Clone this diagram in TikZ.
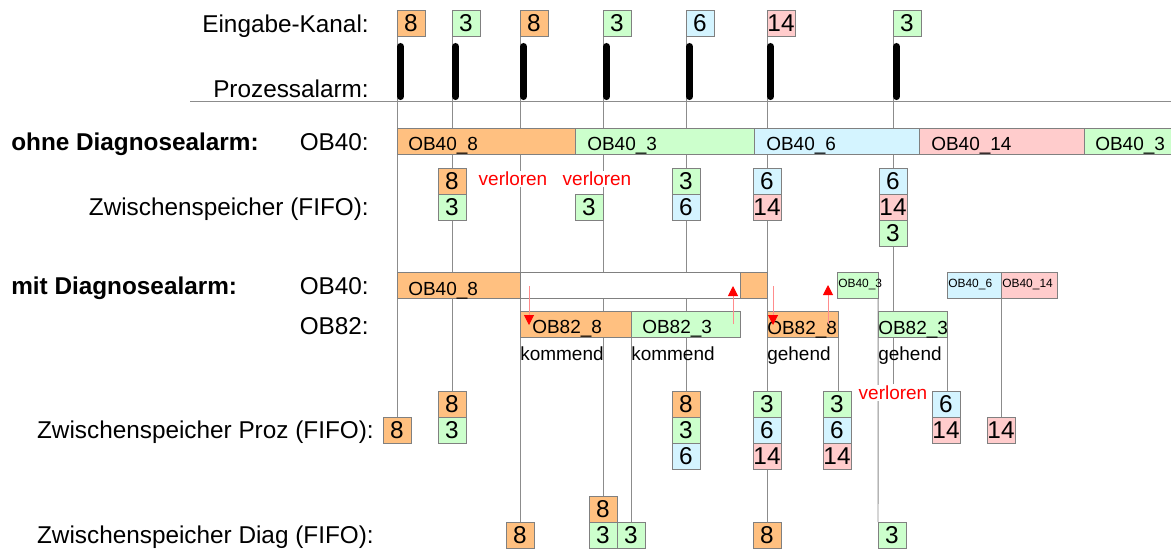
\documentclass[tikz,border=0pt]{standalone}
\usepackage{fontspec}
\setmainfont{Liberation Sans}
\usetikzlibrary{positioning,arrows.meta,backgrounds}

\definecolor{c8}{HTML}{FFC080}
\definecolor{c3}{HTML}{CCFFCC}
\definecolor{c6}{HTML}{D4F4FF}
\definecolor{c14}{HTML}{FFCCCC}
\definecolor{rim}{HTML}{808080}
\definecolor{guidegray}{HTML}{8C8C8C}

\newcommand{\bigtxt}{\fontsize{17.3}{20}\selectfont}
\newcommand{\midtxt}{\fontsize{13.5}{16}\selectfont}
\newcommand{\smalltxt}{\fontsize{8.5}{10}\selectfont}

\tikzset{
  rowlabel/.style={font=\bigtxt, inner sep=0pt, anchor=base east},
  caption/.style={font=\bfseries\bigtxt, inner sep=0pt, anchor=base west},
  num/.style={draw=rim, fill=#1, line width=0.7pt, minimum width=0.7cm, minimum height=0.65cm, inner sep=0pt, outer sep=0pt, font=\bigtxt},
  seg/.style={draw=rim, fill=#1, line width=0.7pt, minimum height=0.65cm, inner sep=0pt, outer sep=0pt, anchor=west},
  segtext/.style={font=\midtxt, inner sep=0pt, anchor=base west},
  smalltext/.style={font=\smalltxt, inner sep=0pt, anchor=base west},
  lost/.style={font=\midtxt, text=red, fill=white, inner sep=1pt},
  note/.style={font=\midtxt, inner sep=0pt, anchor=base west},
  guide/.style={draw=guidegray, line width=0.7pt},
  pulse/.style={line width=5pt, line cap=round},
  hint/.style={draw=red!45, line width=0.7pt, -{Triangle[red, length=0.25cm, width=0.25cm]}},
}

\begin{document}
\begin{tikzpicture}[x=0.025cm, y=-0.025cm]
  \useasboundingbox (0,0) rectangle (1171,549);
  \clip (0,0) rectangle (1171,549);

  % Row labels
  \node[rowlabel] (lkanal) at (369,32) {Eingabe-Kanal:};
  \node[rowlabel] (lalarm) at (369,97) {Prozessalarm:};
  \node[caption] (cohne) at (11,150) {ohne Diagnosealarm:};
  \node[rowlabel] (lob40a) at (369,150) {OB40:};
  \node[rowlabel] (lfifo) at (369,215) {Zwischenspeicher (FIFO):};
  \node[caption] (cmit) at (11,294) {mit Diagnosealarm:};
  \node[rowlabel] (lob40b) at (369,294) {OB40:};
  \node[rowlabel] (lob82) at (369,334) {OB82:};
  \node[rowlabel] (lproz) at (374,438) {Zwischenspeicher Proz (FIFO):};
  \node[rowlabel] (ldiag) at (374,543) {Zwischenspeicher Diag (FIFO):};

  % Input channels
  \node[num=c8] (k1) at (411,23) {8};
  \node[num=c3] (k2) at (466,23) {3};
  \node[num=c8] (k3) at (534,23) {8};
  \node[num=c3] (k4) at (617,23) {3};
  \node[num=c6] (k5) at (700,23) {6};
  \node[num=c14] (k6) at (781,23) {14};
  \node[num=c3] (k7) at (907,23) {3};

  % Process alarms
  \foreach \k in {k1,k2,k3,k4,k5,k6,k7}
    \draw[pulse] ([shift={(3.5,10.5)}]\k.south west) -- ([shift={(3.5,60.5)}]\k.south west);
  \coordinate (axl) at (190,101);
  \coordinate (axr) at (1171,101);
  \draw[guide] (axl) -- (axr);

  % ohne Diagnosealarm: OB40
  \node[seg=c8, minimum width=4.45cm] (a1) at (397,141) {};
  \node[seg=c3, minimum width=4.475cm] (a2) at (575,141) {};
  \node[seg=c6, minimum width=4.125cm] (a3) at (754,141) {};
  \node[seg=c14, minimum width=4.125cm] (a4) at (919,141) {};
  \node[seg=c3, minimum width=4.125cm] (a5) at (1084,141) {};
  \node[segtext] (ta1) at (408,150) {OB40\_8};
  \node[segtext] (ta2) at (587,150) {OB40\_3};
  \node[segtext] (ta3) at (766,150) {OB40\_6};
  \node[segtext] (ta4) at (931,150) {OB40\_14};
  \node[segtext] (ta5) at (1095,150) {OB40\_3};

  % ohne Diagnosealarm: FIFO
  \node[num=c8] (f1a) at (452,181) {8};
  \node[num=c3, below=0pt of f1a] (f1b) {3};
  \node[lost] (v1) at (513,179) {verloren};
  \node[lost] (v2) at (597,179) {verloren};
  \node[num=c3] (f2) at (589,207) {3};
  \node[num=c3] (f3a) at (686,181) {3};
  \node[num=c6, below=0pt of f3a] (f3b) {6};
  \node[num=c6] (f4a) at (767,181) {6};
  \node[num=c14, below=0pt of f4a] (f4b) {14};
  \node[num=c6] (f5a) at (893,181) {6};
  \node[num=c14, below=0pt of f5a] (f5b) {14};
  \node[num=c3, below=0pt of f5b] (f5c) {3};

  % mit Diagnosealarm: OB40
  \node[seg=c8, minimum width=3.075cm] (b1) at (397,285) {};
  \node[seg=white, minimum width=5.5cm] (b2) at (520,285) {};
  \node[seg=c8, minimum width=0.675cm] (b3) at (740,285) {};
  \node[seg=c3, minimum width=1.025cm] (s1) at (837,285) {};
  \node[seg=c6, minimum width=1.35cm] (s2) at (947,285) {};
  \node[seg=c14, minimum width=1.4cm] (s3) at (1001,285) {};
  \node[segtext] (tb1) at (408,295) {OB40\_8};
  \node[smalltext] (ts1) at (838,287) {OB40\_3};
  \node[smalltext] (ts2) at (948,287) {OB40\_6};
  \node[smalltext] (ts3) at (1002,287) {OB40\_14};

  % mit Diagnosealarm: OB82
  \node[seg=c8, minimum width=2.775cm] (m1) at (520,324.5) {};
  \node[seg=c3, minimum width=2.725cm] (m2) at (631,324.5) {};
  \node[seg=c8, minimum width=1.775cm] (m3) at (767,324.5) {};
  \node[seg=c3, minimum width=1.725cm] (m4) at (878,324.5) {};
  \node[segtext] (tm1) at (532,333) {OB82\_8};
  \node[segtext] (tm2) at (642,333) {OB82\_3};
  \node[segtext] (tm3) at (767,334) {OB82\_8};
  \node[segtext] (tm4) at (878,334) {OB82\_3};
  \node[note] (n1) at (520,360) {kommend};
  \node[note] (n2) at (631,360) {kommend};
  \node[note] (n3) at (767,360) {gehend};
  \node[note] (n4) at (878,360) {gehend};

  % Interrupt jumps
  \coordinate (h1a) at (529,286); \coordinate (h1b) at (529,325);
  \coordinate (h2a) at (733,324); \coordinate (h2b) at (733,286);
  \coordinate (h3a) at (773,286); \coordinate (h3b) at (773,325);
  \coordinate (h4a) at (828,324); \coordinate (h4b) at (828,285);
  \foreach \s/\e in {h1a/h1b,h2a/h2b,h3a/h3b,h4a/h4b}
    \draw[hint] (\s) -- (\e);

  \node[lost] (v3) at (893,393) {verloren};

  % Zwischenspeicher Proz
  \node[num=c8] (p1) at (397,430) {8};
  \node[num=c8] (p2a) at (452,404) {8};
  \node[num=c3, below=0pt of p2a] (p2b) {3};
  \node[num=c8] (p3a) at (686,404) {8};
  \node[num=c3, below=0pt of p3a] (p3b) {3};
  \node[num=c6, below=0pt of p3b] (p3c) {6};
  \node[num=c3] (p4a) at (767,404) {3};
  \node[num=c6, below=0pt of p4a] (p4b) {6};
  \node[num=c14, below=0pt of p4b] (p4c) {14};
  \node[num=c3] (p5a) at (837,404) {3};
  \node[num=c6, below=0pt of p5a] (p5b) {6};
  \node[num=c14, below=0pt of p5b] (p5c) {14};
  \node[num=c6] (p6a) at (946,404) {6};
  \node[num=c14, below=0pt of p6a] (p6b) {14};
  \node[num=c14] (p7) at (1001,430) {14};

  % Zwischenspeicher Diag
  \node[num=c8] (d1) at (520,535) {8};
  \node[num=c8] (d2a) at (603,509) {8};
  \node[num=c3, below=0pt of d2a] (d2b) {3};
  \node[num=c3, right=0pt of d2b] (d3) {3};
  \node[num=c8] (d4) at (767,535) {8};
  \node[num=c3] (d5) at (892,535) {3};

  % Time lines
  \begin{scope}[on background layer]
    \draw[guide] (k1.south west) -- (k1.south west |- p1.north);
    \draw[guide] (k2.south west) -- (k2.south west |- p2a.north);
    \draw[guide] (k3.south west) -- (k3.south west |- d1.north);
    \draw[guide] (k4.south west) -- (k4.south west |- d2a.north);
    \draw[guide] (k5.south west) -- (k5.south west |- p3a.north);
    \draw[guide] (k6.south west) -- (k6.south west |- d4.north);
    \draw[guide] (k7.south west) -- (k7.south west |- v3.north);
    \draw[guide] (m2.south west) -- (m2.south west |- d3.north);
    \draw[guide] (m3.south east) -- (m3.south east |- p5a.north);
    \draw[guide] (s1.south east) -- (d5.north west);
    \draw[guide] (m4.south east) -- (m4.south east |- p6a.north);
    \draw[guide] (s3.south west) -- (s3.south west |- p7.north);
  \end{scope}
\end{tikzpicture}
\end{document}
